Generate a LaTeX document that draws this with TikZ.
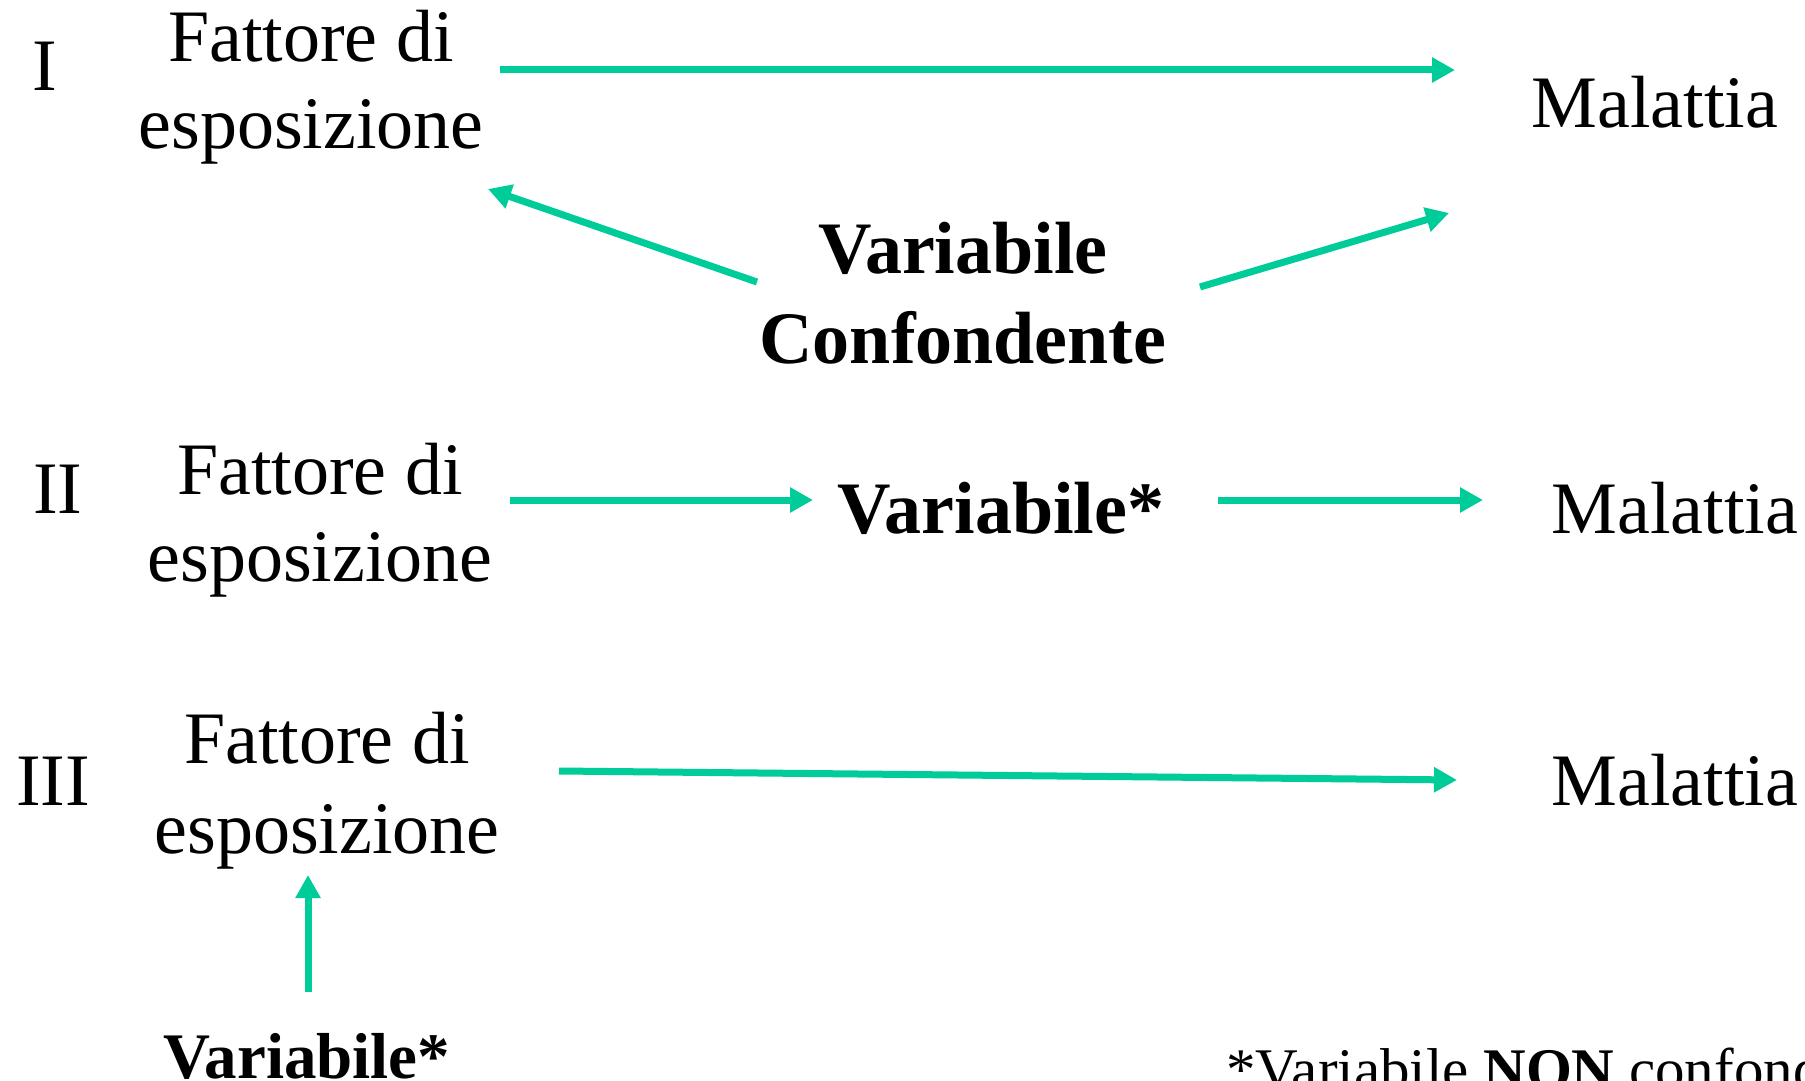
\documentclass[tikz,border=0pt]{standalone}
\usepackage{fontspec}
\setmainfont{Liberation Serif}
\usetikzlibrary{arrows.meta}
\definecolor{arrowgreen}{RGB}{0,204,153}
\tikzset{
  txt/.style={inner sep=0pt, outer sep=0pt, align=center, anchor=base,
              font=\fontsize{74pt}{87pt}\selectfont},
  txtwide/.style={txt, font=\fontsize{74pt}{90pt}\selectfont},
  bold/.style={txt, font=\fontsize{74pt}{90pt}\selectfont\bfseries},
  boldsmall/.style={txt, font=\fontsize{65pt}{78pt}\selectfont\bfseries},
  note/.style={inner sep=0pt, anchor=base west, font=\fontsize{59pt}{70pt}\selectfont},
  arr/.style={draw=arrowgreen, line width=7pt,
              -{Triangle[length=23pt,width=24pt]}}
}
\begin{document}
\begin{tikzpicture}[x=1pt, y=-1pt]
  \useasboundingbox (0,0) rectangle (1805,1081);
  \clip (0,0) rectangle (1805,1081);

  % Case I: confounding variable (base anchors sit on the last line)
  \node[txt] (n1) at (45,90) {I};
  \node[txt] (f1) at (311,148) {Fattore di\\esposizione};
  \node[txt] (m1) at (1655,127) {Malattia};
  \node[bold] (c1) at (963,363) {Variabile\\Confondente};
  \draw[arr] ([shift={(189,-78)}]f1.base) -- ([shift={(-200,-57)}]m1.base);
  \draw[arr] ([shift={(-206,-81)}]c1.base) -- ([shift={(177,41)}]f1.base);
  \draw[arr] ([shift={(237,-76)}]c1.base) -- ([shift={(-206,86)}]m1.base);

  % Case II: intermediate variable
  \node[txt] (n2) at (58,513) {II};
  \node[txt] (f2) at (320,581) {Fattore di\\esposizione};
  \node[bold] (v2) at (1001,533) {Variabile*};
  \node[txt] (m2) at (1675,533) {Malattia};
  \draw[arr] ([shift={(190,-81)}]f2.base) -- ([shift={(-188,-33)}]v2.base);
  \draw[arr] ([shift={(217,-33)}]v2.base) -- ([shift={(-192,-33)}]m2.base);

  % Case III: variable acting on the exposure only
  \node[txt] (n3) at (53,805) {III};
  \node[txtwide] (f3) at (327,853) {Fattore di\\esposizione};
  \node[txt] (m3) at (1675,805) {Malattia};
  \node[boldsmall] (v3) at (307,1078) {Variabile*};
  \draw[arr] ([shift={(232,-82)}]f3.base) -- ([shift={(-218,-25)}]m3.base);
  \draw[arr] ([shift={(1,-86)}]v3.base) -- ([shift={(-19,22)}]f3.base);

  % Footnote
  \node[note] (fn) at (1226,1089) {*Variabile \textbf{NON} confondente};
\end{tikzpicture}
\end{document}
